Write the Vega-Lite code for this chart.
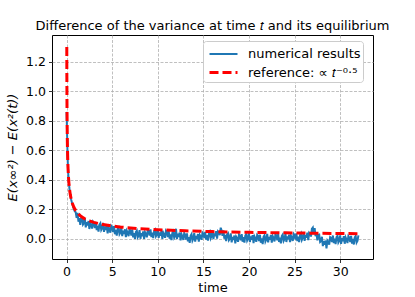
{
  "$schema": "https://vega.github.io/schema/vega-lite/v6.json",
  "width": 321,
  "height": 224,
  "autosize": "none",
  "padding": {"left": 52, "top": 35, "right": 42, "bottom": 38},
  "background": "white",
  "config": {
    "font": "DejaVu Sans",
    "view": {"stroke": "#000000", "strokeWidth": 1},
    "axis": {
      "domain": false,
      "grid": true,
      "gridColor": "#b0b0b0",
      "gridDash": [3, 1.5],
      "gridWidth": 0.8,
      "tickColor": "#000000",
      "tickSize": 3.5,
      "tickWidth": 0.8,
      "labelFont": "DejaVu Sans",
      "labelFontSize": 12.5,
      "labelColor": "#000000",
      "labelPadding": 3,
      "titleFont": "DejaVu Sans",
      "titleFontSize": 13,
      "titleFontWeight": "normal",
      "titleColor": "#000000"
    },
    "legend": {
      "title": null,
      "orient": "none",
      "legendX": 151,
      "legendY": 6,
      "fillColor": "white",
      "strokeColor": "#cccccc",
      "cornerRadius": 3,
      "padding": 2,
      "symbolType": "M-0.7,0H2.1",
      "symbolSize": 400,
      "symbolStrokeWidth": 2.5,
      "labelFont": "DejaVu Sans",
      "labelFontSize": 13,
      "labelColor": "#000000",
      "labelOffset": 20,
      "rowPadding": 0
    },
    "title": {"font": "DejaVu Sans", "fontSize": 13, "fontWeight": "normal", "color": "#000000", "offset": 2}
  },
  "title": {"text": "Difference of the variance at time 𝑡 and its equilibrium", "anchor": "middle"},
  "datasets": {
    "num": [
      {"t":0.0,"v":0.86},{"t":0.05,"v":0.72},{"t":0.1,"v":0.58},{"t":0.15,"v":0.48},{"t":0.2,"v":0.42},{"t":0.3,"v":0.345},{"t":0.4,"v":0.30},{"t":0.5,"v":0.265},{"t":0.6,"v":0.24},{"t":0.7,"v":0.22},{"t":0.8,"v":0.20},{"t":0.9,"v":0.185},
      {"t":1.0,"v":0.179},{"t":1.1,"v":0.140},{"t":1.2,"v":0.175},{"t":1.3,"v":0.115},{"t":1.4,"v":0.138},{"t":1.5,"v":0.093},{"t":1.6,"v":0.137},{"t":1.7,"v":0.143},{"t":1.8,"v":0.095},{"t":1.9,"v":0.104},
      {"t":2.0,"v":0.137},{"t":2.1,"v":0.076},{"t":2.2,"v":0.112},{"t":2.3,"v":0.089},{"t":2.4,"v":0.119},{"t":2.5,"v":0.065},{"t":2.6,"v":0.107},{"t":2.7,"v":0.093},{"t":2.8,"v":0.068},{"t":2.9,"v":0.114},
      {"t":3.0,"v":0.104},{"t":3.1,"v":0.071},{"t":3.2,"v":0.112},{"t":3.3,"v":0.058},{"t":3.4,"v":0.087},{"t":3.5,"v":0.048},{"t":3.6,"v":0.095},{"t":3.7,"v":0.104},{"t":3.8,"v":0.059},{"t":3.9,"v":0.071},
      {"t":4.0,"v":0.107},{"t":4.1,"v":0.046},{"t":4.2,"v":0.082},{"t":4.3,"v":0.059},{"t":4.4,"v":0.089},{"t":4.5,"v":0.035},{"t":4.6,"v":0.078},{"t":4.7,"v":0.064},{"t":4.8,"v":0.040},{"t":4.9,"v":0.086},
      {"t":5.0,"v":0.077},{"t":5.1,"v":0.044},{"t":5.2,"v":0.085},{"t":5.3,"v":0.030},{"t":5.4,"v":0.059},{"t":5.5,"v":0.020},{"t":5.6,"v":0.067},{"t":5.7,"v":0.075},{"t":5.8,"v":0.030},{"t":5.9,"v":0.041},
      {"t":6.0,"v":0.077},{"t":6.1,"v":0.017},{"t":6.2,"v":0.054},{"t":6.3,"v":0.032},{"t":6.4,"v":0.063},{"t":6.5,"v":0.010},{"t":6.6,"v":0.053},{"t":6.7,"v":0.040},{"t":6.8,"v":0.016},{"t":6.9,"v":0.063},
      {"t":7.0,"v":0.054},{"t":7.1,"v":0.021},{"t":7.2,"v":0.062},{"t":7.3,"v":0.008},{"t":7.4,"v":0.037},{"t":7.5,"v":-0.002},{"t":7.6,"v":0.045},{"t":7.7,"v":0.054},{"t":7.8,"v":0.009},{"t":7.9,"v":0.021},
      {"t":8.0,"v":0.057},{"t":8.1,"v":-0.001},{"t":8.2,"v":0.037},{"t":8.3,"v":0.017},{"t":8.4,"v":0.049},{"t":8.5,"v":-0.002},{"t":8.6,"v":0.043},{"t":8.7,"v":0.032},{"t":8.8,"v":0.009},{"t":8.9,"v":0.058},
      {"t":9.0,"v":0.051},{"t":9.1,"v":0.020},{"t":9.2,"v":0.062},{"t":9.3,"v":0.010},{"t":9.4,"v":0.040},{"t":9.5,"v":0.003},{"t":9.6,"v":0.051},{"t":9.7,"v":0.060},{"t":9.8,"v":0.016},{"t":9.9,"v":0.028},
      {"t":10.0,"v":0.065},{"t":10.1,"v":0.005},{"t":10.2,"v":0.042},{"t":10.3,"v":0.020},{"t":10.4,"v":0.051},{"t":10.5,"v":-0.002},{"t":10.6,"v":0.041},{"t":10.7,"v":0.029},{"t":10.8,"v":0.005},{"t":10.9,"v":0.053},
      {"t":11.0,"v":0.044},{"t":11.1,"v":0.011},{"t":11.2,"v":0.053},{"t":11.3,"v":-0.001},{"t":11.4,"v":0.029},{"t":11.5,"v":-0.010},{"t":11.6,"v":0.039},{"t":11.7,"v":0.049},{"t":11.8,"v":0.006},{"t":11.9,"v":0.019},
      {"t":12.0,"v":0.067},{"t":12.1,"v":-0.003},{"t":12.2,"v":0.033},{"t":12.3,"v":0.011},{"t":12.4,"v":0.041},{"t":12.5,"v":-0.012},{"t":12.6,"v":0.030},{"t":12.7,"v":0.016},{"t":12.8,"v":-0.009},{"t":12.9,"v":0.037},
      {"t":13.0,"v":0.027},{"t":13.1,"v":-0.006},{"t":13.2,"v":0.035},{"t":13.3,"v":-0.019},{"t":13.4,"v":0.010},{"t":13.5,"v":-0.029},{"t":13.6,"v":0.019},{"t":13.7,"v":0.030},{"t":13.8,"v":-0.014},{"t":13.9,"v":0.000},
      {"t":14.0,"v":0.037},{"t":14.1,"v":-0.021},{"t":14.2,"v":0.018},{"t":14.3,"v":-0.002},{"t":14.4,"v":0.031},{"t":14.5,"v":-0.020},{"t":14.6,"v":0.025},{"t":14.7,"v":0.014},{"t":14.8,"v":-0.008},{"t":14.9,"v":0.041},
      {"t":15.0,"v":0.034},{"t":15.1,"v":0.003},{"t":15.2,"v":0.045},{"t":15.3,"v":-0.007},{"t":15.4,"v":0.023},{"t":15.5,"v":-0.014},{"t":15.6,"v":0.035},{"t":15.7,"v":0.046},{"t":15.8,"v":0.002},{"t":15.9,"v":0.016},
      {"t":16.0,"v":0.054},{"t":16.1,"v":-0.003},{"t":16.2,"v":0.036},{"t":16.3,"v":0.017},{"t":16.4,"v":0.050},{"t":16.5,"v":0.000},{"t":16.6,"v":0.049},{"t":16.7,"v":0.042},{"t":16.8,"v":0.024},{"t":16.9,"v":0.074},
      {"t":17.0,"v":0.054},{"t":17.1,"v":0.018},{"t":17.2,"v":0.056},{"t":17.3,"v":-0.001},{"t":17.4,"v":0.025},{"t":17.5,"v":-0.017},{"t":17.6,"v":0.029},{"t":17.7,"v":0.036},{"t":17.8,"v":-0.010},{"t":17.9,"v":0.000},
      {"t":18.0,"v":0.035},{"t":18.1,"v":-0.025},{"t":18.2,"v":0.012},{"t":18.3,"v":-0.010},{"t":18.4,"v":0.021},{"t":18.5,"v":-0.032},{"t":18.6,"v":0.012},{"t":18.7,"v":0.001},{"t":18.8,"v":-0.022},{"t":18.9,"v":0.027},
      {"t":19.0,"v":0.019},{"t":19.1,"v":-0.012},{"t":19.2,"v":0.031},{"t":19.3,"v":-0.021},{"t":19.4,"v":0.010},{"t":19.5,"v":-0.027},{"t":19.6,"v":0.021},{"t":19.7,"v":0.031},{"t":19.8,"v":-0.013},{"t":19.9,"v":0.000},
      {"t":20.0,"v":0.037},{"t":20.1,"v":-0.023},{"t":20.2,"v":0.014},{"t":20.3,"v":-0.008},{"t":20.4,"v":0.023},{"t":20.5,"v":-0.030},{"t":20.6,"v":0.014},{"t":20.7,"v":0.001},{"t":20.8,"v":-0.022},{"t":20.9,"v":0.025},
      {"t":21.0,"v":0.017},{"t":21.1,"v":-0.016},{"t":21.2,"v":0.026},{"t":21.3,"v":-0.028},{"t":21.4,"v":0.002},{"t":21.5,"v":-0.037},{"t":21.6,"v":0.012},{"t":21.7,"v":0.023},{"t":21.8,"v":-0.020},{"t":21.9,"v":-0.006},
      {"t":22.0,"v":0.032},{"t":22.1,"v":-0.026},{"t":22.2,"v":0.012},{"t":22.3,"v":-0.008},{"t":22.4,"v":0.024},{"t":22.5,"v":-0.027},{"t":22.6,"v":0.017},{"t":22.7,"v":0.005},{"t":22.8,"v":-0.019},{"t":22.9,"v":0.029},
      {"t":23.0,"v":0.021},{"t":23.1,"v":-0.011},{"t":23.2,"v":0.030},{"t":23.3,"v":-0.023},{"t":23.4,"v":0.006},{"t":23.5,"v":-0.032},{"t":23.6,"v":0.017},{"t":23.7,"v":0.027},{"t":23.8,"v":-0.016},{"t":23.9,"v":-0.003},
      {"t":24.0,"v":0.035},{"t":24.1,"v":-0.023},{"t":24.2,"v":0.015},{"t":24.3,"v":-0.005},{"t":24.4,"v":0.027},{"t":24.5,"v":-0.024},{"t":24.6,"v":0.020},{"t":24.7,"v":0.008},{"t":24.8,"v":-0.016},{"t":24.9,"v":0.032},
      {"t":25.0,"v":0.024},{"t":25.1,"v":-0.007},{"t":25.2,"v":0.035},{"t":25.3,"v":-0.017},{"t":25.4,"v":0.013},{"t":25.5,"v":-0.024},{"t":25.6,"v":0.024},{"t":25.7,"v":0.035},{"t":25.8,"v":-0.009},{"t":25.9,"v":0.005},
      {"t":26.0,"v":0.042},{"t":26.1,"v":-0.015},{"t":26.2,"v":0.025},{"t":26.3,"v":0.006},{"t":26.4,"v":0.040},{"t":26.5,"v":-0.010},{"t":26.6,"v":0.039},{"t":26.7,"v":0.032},{"t":26.8,"v":0.014},{"t":26.9,"v":0.067},
      {"t":27.0,"v":0.075},{"t":27.1,"v":0.030},{"t":27.2,"v":0.071},{"t":27.3,"v":0.016},{"t":27.4,"v":0.036},{"t":27.5,"v":-0.012},{"t":27.6,"v":0.026},{"t":27.7,"v":0.028},{"t":27.8,"v":-0.023},{"t":27.9,"v":-0.017},
      {"t":28.0,"v":0.012},{"t":28.1,"v":-0.051},{"t":28.2,"v":-0.017},{"t":28.3,"v":-0.041},{"t":28.4,"v":-0.013},{"t":28.5,"v":-0.066},{"t":28.6,"v":-0.013},{"t":28.7,"v":-0.022},{"t":28.8,"v":-0.041},{"t":28.9,"v":0.010},
      {"t":29.0,"v":0.005},{"t":29.1,"v":-0.024},{"t":29.2,"v":0.021},{"t":29.3,"v":-0.031},{"t":29.4,"v":0.000},{"t":29.5,"v":-0.037},{"t":29.6,"v":0.010},{"t":29.7,"v":0.019},{"t":29.8,"v":-0.026},{"t":29.9,"v":-0.014},
      {"t":30.0,"v":0.022},{"t":30.1,"v":-0.036},{"t":30.2,"v":0.003},{"t":30.3,"v":-0.017},{"t":30.4,"v":0.016},{"t":30.5,"v":-0.035},{"t":30.6,"v":0.008},{"t":30.7,"v":-0.006},{"t":30.8,"v":-0.030},{"t":30.9,"v":0.016},
      {"t":31.0,"v":0.007},{"t":31.1,"v":-0.024},{"t":31.2,"v":0.018},{"t":31.3,"v":-0.034},{"t":31.4,"v":-0.003},{"t":31.5,"v":-0.040},{"t":31.6,"v":0.008},{"t":31.7,"v":0.017},{"t":31.8,"v":-0.027},{"t":31.9,"v":-0.015},
      {"t":32.0,"v":0.022}
    ],
    "ref": [
      {"t":0.0214,"v":1.300},{"t":0.025,"v":1.202},{"t":0.03,"v":1.097},{"t":0.04,"v":0.950},{"t":0.05,"v":0.850},{"t":0.06,"v":0.776},{"t":0.08,"v":0.672},{"t":0.1,"v":0.601},{"t":0.13,"v":0.527},{"t":0.16,"v":0.475},{"t":0.2,"v":0.425},{"t":0.25,"v":0.380},{"t":0.3,"v":0.347},{"t":0.4,"v":0.300},{"t":0.5,"v":0.269},{"t":0.6,"v":0.245},{"t":0.8,"v":0.212},{"t":1.0,"v":0.190},{"t":1.3,"v":0.167},{"t":1.6,"v":0.150},{"t":2.0,"v":0.134},{"t":2.5,"v":0.120},{"t":3.0,"v":0.110},{"t":4.0,"v":0.095},{"t":5.0,"v":0.085},{"t":6.0,"v":0.0776},{"t":8.0,"v":0.0672},{"t":10,"v":0.0601},{"t":13,"v":0.0527},{"t":16,"v":0.0475},{"t":20,"v":0.0425},{"t":24,"v":0.0388},{"t":28,"v":0.0359},{"t":32,"v":0.0336}
    ]
  },
  "encoding": {
    "x": {
      "field": "t", "type": "quantitative",
      "scale": {"domain": [-1.6, 33.6], "nice": false, "zero": false},
      "axis": {"values": [0, 5, 10, 15, 20, 25, 30], "format": "d", "title": "time", "titlePadding": 3}
    },
    "y": {
      "field": "v", "type": "quantitative",
      "scale": {"domain": [-0.1385, 1.3815], "nice": false, "zero": false},
      "axis": {"values": [0, 0.2, 0.4, 0.6, 0.8, 1.0, 1.2], "format": ".1f", "title": "E(x∞²) − E(x²(t))", "titleFontStyle": "italic", "titlePadding": 6}
    }
  },
  "layer": [
    {
      "data": {"name": "num"},
      "mark": {"type": "line", "clip": true},
      "encoding": {
        "color": {"datum": "numerical results", "type": "nominal", "scale": {"domain": ["numerical results", "reference: ∝ 𝑡⁻⁰·⁵"], "range": ["#1f77b4", "#ff0000"]}},
        "strokeDash": {"datum": "numerical results", "type": "nominal", "scale": {"domain": ["numerical results", "reference: ∝ 𝑡⁻⁰·⁵"], "range": [[1, 0], [9, 4]]}},
        "strokeWidth": {"datum": "numerical results", "type": "nominal", "scale": {"domain": ["numerical results", "reference: ∝ 𝑡⁻⁰·⁵"], "range": [2, 3]}}
      }
    },
    {
      "data": {"name": "ref"},
      "mark": {"type": "line", "clip": true},
      "encoding": {
        "color": {"datum": "reference: ∝ 𝑡⁻⁰·⁵", "type": "nominal"},
        "strokeDash": {"datum": "reference: ∝ 𝑡⁻⁰·⁵", "type": "nominal"},
        "strokeWidth": {"datum": "reference: ∝ 𝑡⁻⁰·⁵", "type": "nominal"}
      }
    }
  ]
}
